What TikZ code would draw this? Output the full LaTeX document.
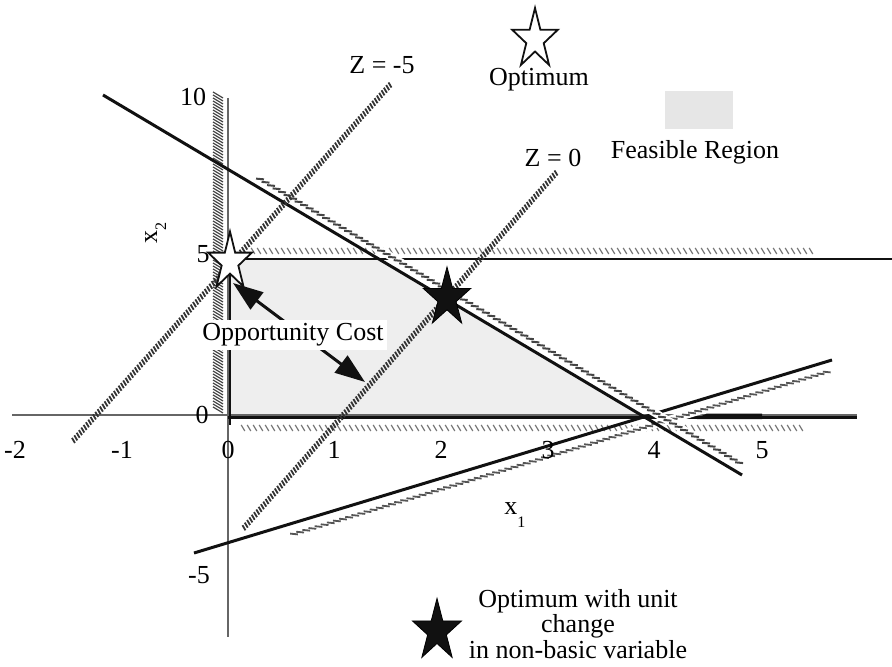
\documentclass[tikz,border=0pt]{standalone}
\usepackage{fontspec}
\setmainfont{Liberation Serif}
\usetikzlibrary{arrows.meta,decorations.markings}
\definecolor{feas}{HTML}{EEEEEE}
\definecolor{legfill}{HTML}{E6E6E6}
\definecolor{hatchgray}{HTML}{444444}
\definecolor{hatchmid}{HTML}{555555}
\definecolor{hatchlight}{HTML}{777777}
\definecolor{axisgray}{HTML}{666666}
\definecolor{inkblack}{HTML}{111111}
\tikzset{
  lbl/.style={font=\fontsize{13}{11.25}\selectfont, inner sep=1pt},
  mainline/.style={draw=inkblack, line width=1.5pt},
  axisline/.style={draw=axisgray, line width=1pt},
  hatch/.style n args={4}{postaction={decorate, decoration={markings,
      mark=between positions 0 and 1 step #1 with {\draw[#4] #2 -- #3;}}}},
  whiteunder/.style={draw=white, line width=#1},
  zline/.style={hatch={1.75pt}{(-0.45pt,-1.4pt)}{(0.45pt,1.4pt)}{draw=black!80, line width=0.9pt}},
  flathatch/.style={hatch={3pt}{(-0.9pt,1.5pt)}{(0.9pt,-1.5pt)}{draw=hatchlight, line width=0.6pt}},
  slopehatch/.style={hatch={3.2pt}{(-1.8pt,-0.85pt)}{(1.8pt,0.85pt)}{draw=hatchgray, line width=1pt}},
  risehatch/.style={hatch={3.2pt}{(-1.8pt,0.75pt)}{(1.8pt,-0.75pt)}{draw=hatchmid, line width=0.9pt}},
  pics/starmark/.style={code={
    \draw[#1] (-90:1) -- (-54:0.382) -- (-18:1) -- (18:0.382) -- (54:1) -- (90:0.382)
      -- (126:1) -- (162:0.382) -- (198:1) -- (234:0.382) -- cycle;}}
}
\begin{document}
\begin{tikzpicture}[x=0.5pt,y=-0.5pt]
\useasboundingbox (0,0) rectangle (892,667);
% feasible region
\fill[feas] (230,259) -- (379,259) -- (643,417) -- (230,417) -- cycle;
% legend box
\fill[legfill] (665,91) rectangle (733,129);
% thin axes
\coordinate (xl) at (12,415); \coordinate (xr) at (857,415);
\coordinate (yt) at (228,98); \coordinate (yb) at (228,637);
\draw[axisline] (xl) -- (xr);
\draw[axisline] (yt) -- (yb);
% hatch bands of the axis constraints and x2<=5
\coordinate (vh1) at (218,95); \coordinate (vh2) at (218,410);
\path[hatch={1.5pt}{(-1.5pt,-2.5pt)}{(1.5pt,2.5pt)}{draw=hatchgray, line width=0.6pt}] (vh1) -- (vh2);
\coordinate (hh1) at (253,251); \coordinate (hh2) at (812,251);
\path[flathatch] (hh1) -- (hh2);
\coordinate (bh1) at (243,428); \coordinate (bh2) at (803,428);
\path[flathatch] (bh1) -- (bh2);
% thick constraint lines
\coordinate (ya) at (230,259); \coordinate (yz) at (230,425);
\draw[mainline, line width=1.4pt] (ya) -- (yz);
\coordinate (xa) at (228,417.5); \coordinate (xz) at (857,417.5);
\draw[mainline, line width=1.4pt] (xa) -- (xz);
\coordinate (fa) at (228,259); \coordinate (fz) at (892,259);
\draw[mainline, line width=1.4pt] (fa) -- (fz);
\fill[inkblack] (697,418) -- (707,413.5) -- (762,413.5) -- (762,419) -- (697,419) -- cycle;
% rising constraint
\coordinate (ra) at (194,553); \coordinate (rz) at (832,360);
\draw[mainline] (ra) -- (rz);
\coordinate (rh1) at (294,534); \coordinate (rh2) at (830,371);
\path[whiteunder=4pt, risehatch] (rh1) -- (rh2);
% descending constraint
\coordinate (dh1) at (260,179); \coordinate (dh2) at (743,465);
\path[whiteunder=4pt, slopehatch] (dh1) -- (dh2);
\coordinate (da) at (103,95); \coordinate (dz) at (742,475);
\draw[mainline] (da) -- (dz);
% objective lines
\coordinate (za1) at (390,85); \coordinate (za2) at (73,441);
\path[zline] (za1) -- (za2);
\coordinate (zb1) at (556,173); \coordinate (zb2) at (242,530);
\path[zline] (zb1) -- (zb2);
% opportunity cost arrow
\coordinate (oc1) at (233,283); \coordinate (oc2) at (365,382);
\draw[draw=inkblack, line width=1.5pt, {Triangle[length=15pt,width=10.5pt]}-{Triangle[length=15pt,width=10.5pt]}] (oc1) -- (oc2);
\node[lbl, fill=white, inner xsep=1.5pt, inner ysep=2pt] (oclabel) at (293,335) {Opportunity Cost};
% stars
\pic at (535,39.5) [xscale=24, yscale=31.5] {starmark={draw=inkblack, line width=0.9pt, fill=white}};
\pic at (230,262) [xscale=23, yscale=30.4] {starmark={draw=inkblack, line width=0.9pt, fill=white}};
\pic at (447,298) [xscale=25, yscale=31] {starmark={fill=inkblack}};
\pic at (437,631) [xscale=25.8, yscale=32.6] {starmark={fill=inkblack}};
% labels
\node[lbl] (zm5) at (382,65) {Z = -5};
\node[lbl] (z0) at (553,158) {Z = 0};
\node[lbl] (opt) at (539,80) {Optimum};
\node[lbl] (feasl) at (695,152) {Feasible Region};
\node[lbl, align=center] (optu) at (578,624) {Optimum with unit\\change\\in non-basic variable};
% tick labels
\node[lbl] (tm2) at (15,450) {-2};
\node[lbl] (tm1) at (122,450) {-1};
\node[lbl] (t0) at (228,450) {0};
\node[lbl] (t1) at (334,450) {1};
\node[lbl] (t2) at (441,450) {2};
\node[lbl] (t3) at (548,450) {3};
\node[lbl] (t4) at (654,450) {4};
\node[lbl] (t5) at (762,450) {5};
\node[lbl] (y10) at (193,97) {10};
\node[lbl] (y5) at (203,254) {5};
\node[lbl] (y0) at (202,415) {0};
\node[lbl] (ym5) at (199,575) {-5};
% axis names
\node[lbl, anchor=base west] (x1) at (502,514) {x\raisebox{-6.5pt}{\fontsize{8}{8}\selectfont 1}};
\node[lbl, rotate=90, anchor=base west] (x2) at (157,246) {x\raisebox{-4.5pt}{\fontsize{8}{8}\selectfont 2}};
\end{tikzpicture}
\end{document}
